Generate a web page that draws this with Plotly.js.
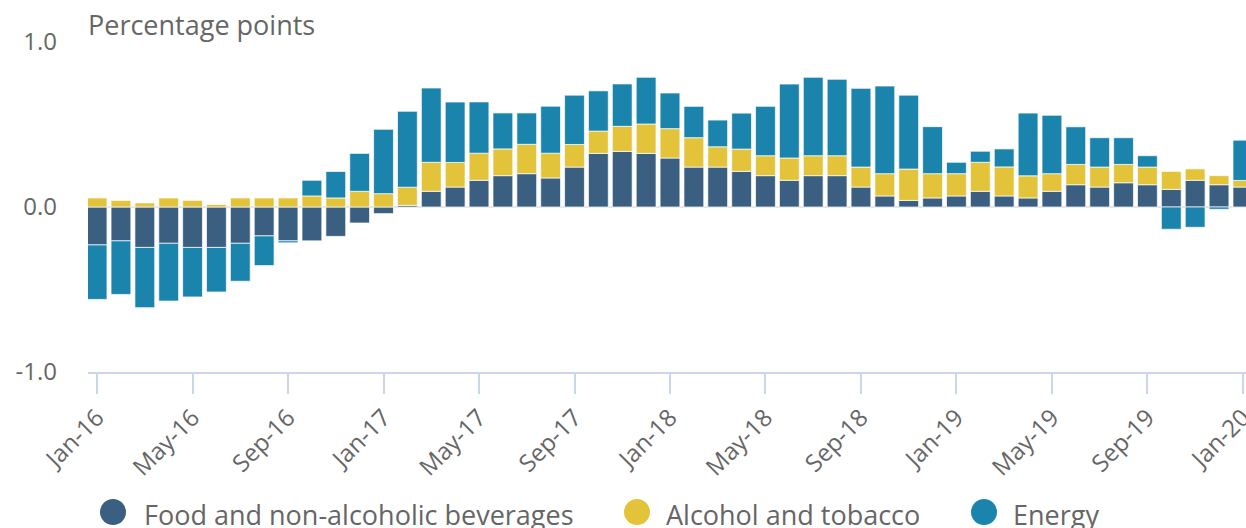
<!DOCTYPE html>
<html>
<head>
<meta charset="utf-8">
<script src="https://cdn.plot.ly/plotly-3.0.1.min.js"></script>
<style>
  html, body { margin: 0; padding: 0; background: #fff; }
  #chart { width: 1246px; height: 528px; }
</style>
</head>
<body>
<div id="chart"></div>
<script>
// contributions to inflation, percentage points
const MONTH_NAMES = ['Jan', 'Feb', 'Mar', 'Apr', 'May', 'Jun', 'Jul', 'Aug', 'Sep', 'Oct', 'Nov', 'Dec'];
const YEARS = ['16', '17', '18', '19', '20'];

const food = [
  -0.23, -0.205, -0.245, -0.22, -0.245, -0.245, -0.22, -0.175, -0.205, -0.205, -0.178, -0.097,
  -0.04, 0.01, 0.095, 0.121, 0.162, 0.19, 0.202, 0.176, 0.242, 0.325, 0.337, 0.325,
  0.297, 0.242, 0.242, 0.216, 0.19, 0.162, 0.19, 0.19, 0.121, 0.067, 0.04, 0.055,
  0.067, 0.095, 0.067, 0.055, 0.095, 0.135, 0.121, 0.147, 0.135, 0.107, 0.162, 0.135,
  0.121
];
const alcohol = [
  0.055, 0.04, 0.025, 0.055, 0.04, 0.015, 0.055, 0.055, 0.055, 0.067, 0.055, 0.095,
  0.081, 0.11, 0.176, 0.149, 0.164, 0.162, 0.178, 0.15, 0.137, 0.135, 0.152, 0.178,
  0.178, 0.178, 0.123, 0.135, 0.121, 0.135, 0.121, 0.121, 0.121, 0.135, 0.19, 0.147,
  0.135, 0.176, 0.176, 0.134, 0.107, 0.123, 0.121, 0.111, 0.107, 0.109, 0.069, 0.055,
  0.04
];
const energy = [
  -0.33, -0.325, -0.365, -0.35, -0.30, -0.27, -0.23, -0.18, -0.012, 0.095, 0.16, 0.23,
  0.39, 0.46, 0.45, 0.366, 0.311, 0.218, 0.19, 0.285, 0.299, 0.244, 0.257, 0.283,
  0.216, 0.19, 0.162, 0.218, 0.299, 0.448, 0.475, 0.463, 0.477, 0.531, 0.448, 0.285,
  0.069, 0.067, 0.109, 0.38, 0.354, 0.228, 0.178, 0.162, 0.069, -0.135, -0.123, -0.014,
  0.244
];

const months = [];
YEARS.forEach(y => MONTH_NAMES.forEach(m => months.push(m + '-' + y)));
const labels = months.slice(0, food.length);
const tickLabels = labels.filter((_, i) => i % 4 === 0);

const SERIES = [
  { name: 'Food and non-alcoholic beverages', y: food, color: '#3b5f80' },
  { name: 'Alcohol and tobacco', y: alcohol, color: '#e3c33a' },
  { name: 'Energy', y: energy, color: '#1b84ad' },
];

const FONT = 'Open Sans, sans-serif';
const TEXT = '#666666';
const PLOT_L = 88, PLOT_R = 1246, PLOT_T = 42, PLOT_B = 372;

const traces = SERIES.map(s => ({
  type: 'bar',
  name: s.name,
  x: labels,
  y: s.y,
  marker: { color: s.color, line: { color: 'rgba(255,255,255,0.7)', width: 1 } },
  showlegend: false,
  hovertemplate: '%{x}<br>' + s.name + ': %{y:.2f}<extra></extra>',
}));

// legend drawn by hand so it gets the big round markers
const px2x = p => (p - PLOT_L) / (PLOT_R - PLOT_L);
const px2y = p => (PLOT_B - p) / (PLOT_B - PLOT_T);
const LEG = [
  { dot: 113, text: 142 },
  { dot: 637, text: 664 },
  { dot: 984, text: 1011 },
];
const LEG_Y = 512;

const shapes = SERIES.map((s, i) => ({
  type: 'circle',
  xref: 'paper', yref: 'paper',
  xsizemode: 'pixel', ysizemode: 'pixel',
  xanchor: px2x(LEG[i].dot), yanchor: px2y(LEG_Y),
  x0: -13, x1: 13, y0: -13, y1: 13,
  fillcolor: s.color,
  line: { width: 0 },
}));

const annotations = SERIES.map((s, i) => ({
  xref: 'paper', yref: 'paper',
  x: px2x(LEG[i].text), y: px2y(LEG_Y + 2),
  xanchor: 'left', yanchor: 'middle',
  text: s.name, showarrow: false,
  font: { family: FONT, size: 27, color: TEXT },
}));
annotations.push({
  xref: 'paper', yref: 'paper',
  x: 0, y: 1, xanchor: 'left', yanchor: 'bottom',
  xshift: -2, yshift: -3,
  text: 'Percentage points', showarrow: false,
  font: { family: FONT, size: 27, color: TEXT },
});

const layout = {
  width: 1246, height: 528,
  paper_bgcolor: '#ffffff', plot_bgcolor: '#ffffff',
  font: { family: FONT, color: TEXT, size: 23 },
  margin: { l: PLOT_L, r: 1246 - PLOT_R, t: PLOT_T, b: 528 - PLOT_B },
  barmode: 'relative',
  bargap: 0.17,
  showlegend: false,
  xaxis: {
    type: 'category',
    range: [-0.38, 48.13],
    tickmode: 'array', tickvals: tickLabels, ticktext: tickLabels,
    tickangle: -45,
    ticks: 'outside', ticklen: 20, tickwidth: 2, tickcolor: '#ccd6eb',
    showline: true, linecolor: '#ccd6eb', linewidth: 2,
    showgrid: false,
    tickfont: { family: FONT, size: 24, color: TEXT },
  },
  yaxis: {
    range: [-1, 1],
    tickmode: 'array', tickvals: [-1, 0, 1], ticktext: ['-1.0', '0.0', '1.0'],
    showgrid: true, gridcolor: '#e6e6e6', gridwidth: 2,
    zeroline: true, zerolinecolor: '#e6e6e6', zerolinewidth: 2,
    ticks: '', ticklabelstandoff: 30,
    tickfont: { family: FONT, size: 24, color: TEXT },
  },
  shapes: shapes,
  annotations: annotations,
};

Plotly.newPlot('chart', traces, layout, { displayModeBar: false, responsive: false });
</script>
</body>
</html>
